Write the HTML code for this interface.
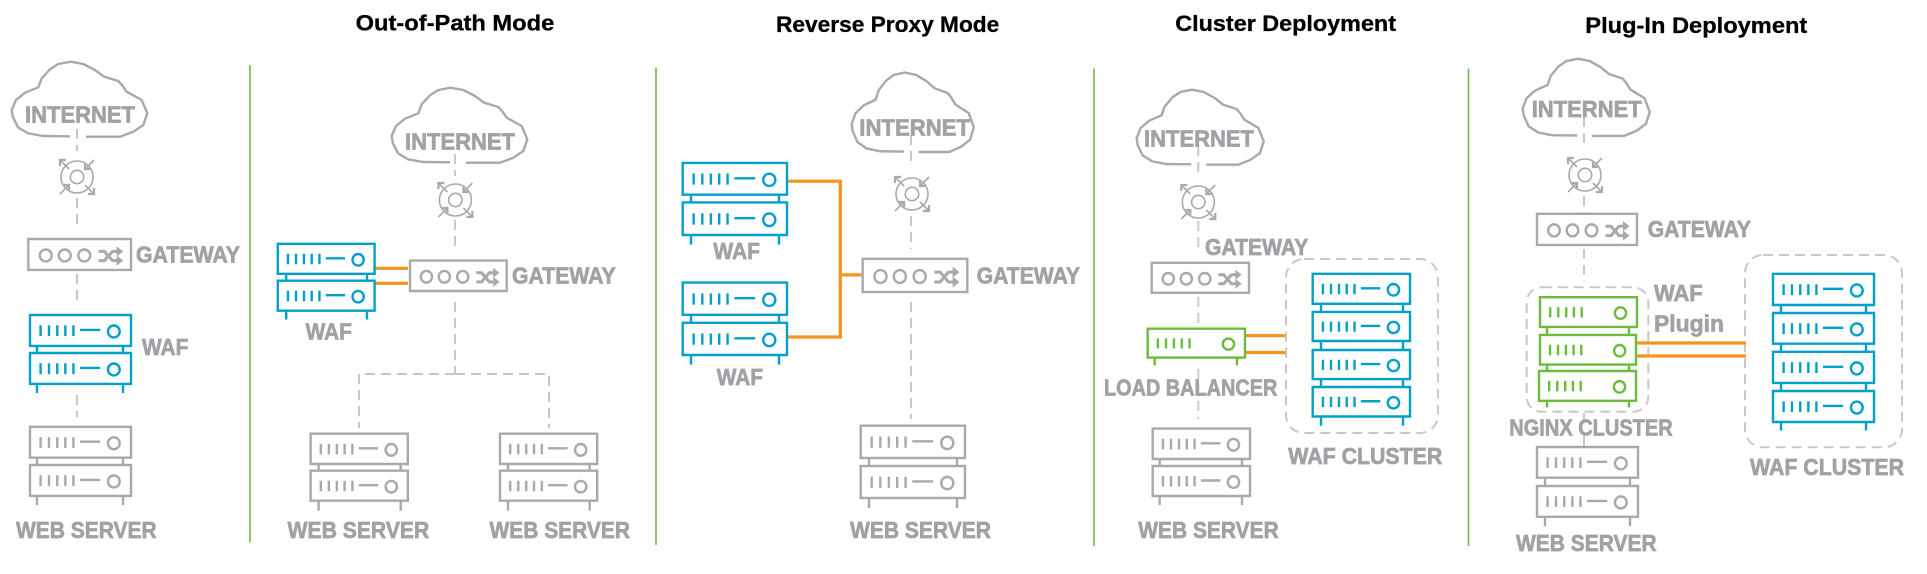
<!DOCTYPE html>
<html><head><meta charset="utf-8"><style>
html,body{margin:0;padding:0;background:#fff}
svg{display:block}
svg *{vector-effect:non-scaling-stroke}
text{font-family:"Liberation Sans",sans-serif;font-weight:bold;font-size:23px;fill:#a0a2a6;stroke:#a0a2a6;stroke-width:.7px}
text.t{fill:#000;stroke:#000;stroke-width:.3px;font-size:22px}
.d{fill:none;stroke:#c7c8ca;stroke-width:2;stroke-dasharray:10 6}
.o{fill:none;stroke:#f7941d;stroke-width:3.2}
</style></head><body>
<svg width="1927" height="574" viewBox="0 0 1927 574" xmlns="http://www.w3.org/2000/svg">
<defs>
<g id="s" stroke-width="2.4"><rect width="100" height="30" fill="#fff"/><path fill="none" d="M10.5 10V20.5M18.8 10V20.5M27 10V20.5M35 10V20.5M43 10V20.5M49.5 14.5H69.5"/><ellipse cx="83" cy="16" rx="5.8" ry="5.8" fill="none"/></g>
<g id="n" stroke-width="2.4"><rect width="100" height="30" fill="#fff"/><path fill="none" d="M10.5 10V20.5M18.8 10V20.5M27 10V20.5M35 10V20.5M43 10V20.5"/><ellipse cx="83" cy="16" rx="5.8" ry="5.8" fill="none"/></g>
<g id="w" stroke-width="2.4"><rect width="100" height="30" fill="#fff"/><ellipse cx="17" cy="16" rx="5.8" ry="5.8" fill="none"/><ellipse cx="35.5" cy="16" rx="5.8" ry="5.8" fill="none"/><ellipse cx="54.5" cy="16" rx="5.8" ry="5.8" fill="none"/><path fill="none" stroke-width="3" d="M68.5 12H74L82 21H87M68.5 21H74L82 12H87"/><path fill="#a7a9ac" stroke="none" d="M86 7L92.5 12L86 17ZM86 16L92.5 21L86 26Z"/></g>
<path id="c" fill="none" stroke-width="2.4" stroke-linejoin="round" d="M70 136.3L43 136L28 133.3L18 127.3L12.7 116.7L11.7 110L16 100L25 92.7L38.3 87.3L41.7 78.3L50 69.3L58.3 64L70.7 61.7L83.3 64L95 70L104 76.7L118.3 81L122 85L126.7 91.7L141.7 100L147.3 113.3L143.3 125L133.3 131.7L120 136.7L86 136.7"/>
<g id="l" fill="none" stroke-width="1.6"><circle r="16"/><circle r="6.7"/><path d="M-17 -17L-8 -8M17 -17L8 -8M-17 17L-8 8M17 17L8 8"/><path stroke-width="2.2" d="M-17 -11V-17H-11M8 -13V-8H13M-13 8H-8V13M11 17H17V11"/></g>
</defs>
<path stroke="#6db33f" stroke-width="1.5" fill="none" d="M250 65V542.5M656 67.5V545M1094 68.5V546M1468.5 68.5V546"/>

<text class="t" x="355.6" y="30.7" textLength="198.7" lengthAdjust="spacingAndGlyphs">Out-of-Path Mode</text>
<text class="t" x="776" y="32.2" textLength="223.3" lengthAdjust="spacingAndGlyphs">Reverse Proxy Mode</text>
<text class="t" x="1175.3" y="31" textLength="220.7" lengthAdjust="spacingAndGlyphs">Cluster Deployment</text>
<text class="t" x="1585.3" y="33" textLength="222" lengthAdjust="spacingAndGlyphs">Plug-In Deployment</text>

<g stroke="#a7a9ac">
<use href="#c"/>
<use href="#c" transform="translate(380,26)"/>
<use href="#c" transform="translate(841.2,7.1) scale(.9,1.06)"/>
<use href="#c" transform="translate(1125.7,28) scale(.937,1)"/>
<use href="#c" transform="translate(1511.7,-4.9) scale(.937,1.03)"/>
<use href="#l" transform="translate(77,177)"/>
<use href="#l" transform="translate(455.4,200)"/>
<use href="#l" transform="translate(912,194)"/>
<use href="#l" transform="translate(1198.3,202)"/>
<use href="#l" transform="translate(1585,175)"/>
</g>

<path class="d" d="M77 129V151M77 198V229M77 274V306M77 395V417"/>
<path class="d" d="M455 154V176M455 220V251M455 302V374M455 374H359V428M455 374H549V428"/>
<path class="d" d="M911 135V167M911 216V249M911 302V419"/>
<path class="d" d="M1198.3 146V176M1198.3 221V253M1198.3 297V327M1198.3 369V419"/>
<path class="d" d="M1584 117V148M1584 196V229M1584 249V282M1584 413V421M1584 436V447"/>

<rect class="d" x="1286" y="259" width="152" height="174" rx="18"/>
<rect class="d" x="1526.7" y="287.3" width="121.6" height="124.5" rx="15"/>
<rect class="d" x="1745" y="255" width="157" height="192.3" rx="18"/>

<path class="o" d="M374.6 268.3H408M374.6 283.3H408"/>
<path class="o" d="M788.3 181.2H840.3V337H788.3M840.3 274.9H861.3"/>
<path class="o" d="M1245.7 335.7H1285.3M1245.7 352.5H1285.3"/>
<path class="o" d="M1636 343H1746M1636 356H1746"/>

<!-- gateways -->
<g stroke="#a7a9ac">
<use href="#w" transform="translate(28.3,239) scale(1.027,1.03)"/>
<use href="#w" transform="translate(410,260.6) scale(.967,1.013)"/>
<use href="#w" transform="translate(862.7,258.8) scale(1.046,1.107)"/>
<use href="#w" transform="translate(1151.7,262.8) scale(.973,1)"/>
<use href="#w" transform="translate(1537,213.8) scale(1,1.037)"/>
</g>

<!-- web servers -->
<g stroke="#a7a9ac">
<path stroke-width="2.4" d="M37 457V505M123 457V505M318.6 464V510.6M400.7 464V510.6M508 464V510.6M589.7 464V510.6M869 458V508M957 458V508M1159.7 459V505M1242 459V505M1545 477V526.3M1630 477V526.3"/>
<use href="#s" transform="translate(30,426.8) scale(1.01,1.03)"/>
<use href="#s" transform="translate(30,465) scale(1.01,1.03)"/>
<use href="#s" transform="translate(310.6,433.7) scale(.972,1.01)"/>
<use href="#s" transform="translate(310.6,470.7) scale(.972,1)"/>
<use href="#s" transform="translate(500,433.7) scale(.972,1.01)"/>
<use href="#s" transform="translate(500,470.7) scale(.972,1)"/>
<use href="#s" transform="translate(860.7,425.7) scale(1.043,1.077)"/>
<use href="#s" transform="translate(860.7,466) scale(1.043,1.067)"/>
<use href="#s" transform="translate(1152.7,428.6) scale(.973,1.013)"/>
<use href="#s" transform="translate(1152.7,466) scale(.973,1)"/>
<use href="#s" transform="translate(1537,447) scale(1.01,1.023)"/>
<use href="#s" transform="translate(1537,486) scale(1.01,1.027)"/>
</g>

<!-- blue servers -->
<g stroke="#00a0c8">
<path stroke-width="2.4" d="M37 346V393M123 346V393M286.2 273V319.5M367 273V319.5M691 194V244.5M779 194V244.5M691 314V364.6M779 314V364.6M1321 303V425.7M1403 303V425.7M1781 305V430.5M1866 305V430.5"/>
<use href="#s" transform="translate(30,315) scale(1.01,1.03)"/>
<use href="#s" transform="translate(30,353) scale(1.01,1.03)"/>
<use href="#s" transform="translate(277.8,243.8) scale(.968,1)"/>
<use href="#s" transform="translate(277.8,280.7) scale(.968,1)"/>
<use href="#s" transform="translate(682.7,162.9) scale(1.043,1.06)"/>
<use href="#s" transform="translate(682.7,202.4) scale(1.043,1.087)"/>
<use href="#s" transform="translate(682.7,282.6) scale(1.043,1.073)"/>
<use href="#s" transform="translate(682.7,322.8) scale(1.043,1.073)"/>
<use href="#s" transform="translate(1312.7,273.8) scale(.973,1)"/>
<use href="#s" transform="translate(1312.7,311.9) scale(.973,.97)"/>
<use href="#s" transform="translate(1312.7,350) scale(.973,.97)"/>
<use href="#s" transform="translate(1312.7,387) scale(.973,.983)"/>
<use href="#s" transform="translate(1773,273.8) scale(1.01,1.04)"/>
<use href="#s" transform="translate(1773,313) scale(1.01,1.023)"/>
<use href="#s" transform="translate(1773,351.8) scale(1.01,1.037)"/>
<use href="#s" transform="translate(1773,391) scale(1.01,1.033)"/>
</g>

<!-- green servers -->
<g stroke="#6cbb3c">
<path stroke-width="2.4" d="M1154.7 357V365.3M1237 357V365.3M1547 326V407.4M1629 326V407.4"/>
<use href="#n" transform="translate(1147.7,328.7) scale(.973,.963)"/>
<use href="#n" transform="translate(1540,297.2) scale(.97,.99)"/>
<use href="#n" transform="translate(1540,334.9) scale(.96,.99)"/>
<use href="#n" transform="translate(1539,371) scale(.97,.993)"/>
</g>

<!-- labels -->
<text x="25" y="122.7" textLength="110" lengthAdjust="spacingAndGlyphs">INTERNET</text>
<text x="136" y="262.3" textLength="104" lengthAdjust="spacingAndGlyphs">GATEWAY</text>
<text x="142" y="355" textLength="46.3" lengthAdjust="spacingAndGlyphs">WAF</text>
<text x="16" y="538" textLength="140.6" lengthAdjust="spacingAndGlyphs">WEB SERVER</text>

<text x="405" y="149.3" textLength="110" lengthAdjust="spacingAndGlyphs">INTERNET</text>
<text x="512" y="283.7" textLength="103.7" lengthAdjust="spacingAndGlyphs">GATEWAY</text>
<text x="305.6" y="339.3" textLength="46.3" lengthAdjust="spacingAndGlyphs">WAF</text>
<text x="287.5" y="538" textLength="141.8" lengthAdjust="spacingAndGlyphs">WEB SERVER</text>
<text x="489.5" y="538" textLength="140.5" lengthAdjust="spacingAndGlyphs">WEB SERVER</text>

<text x="859.3" y="135.4" textLength="110.7" lengthAdjust="spacingAndGlyphs">INTERNET</text>
<text x="713.3" y="259" textLength="46.7" lengthAdjust="spacingAndGlyphs">WAF</text>
<text x="716.7" y="385" textLength="46.3" lengthAdjust="spacingAndGlyphs">WAF</text>
<text x="976.7" y="283.7" textLength="103.3" lengthAdjust="spacingAndGlyphs">GATEWAY</text>
<text x="850" y="538" textLength="141" lengthAdjust="spacingAndGlyphs">WEB SERVER</text>

<text x="1144" y="146.4" textLength="110" lengthAdjust="spacingAndGlyphs">INTERNET</text>
<text x="1205" y="255" textLength="103.3" lengthAdjust="spacingAndGlyphs">GATEWAY</text>
<text x="1104" y="395.3" textLength="173.3" lengthAdjust="spacingAndGlyphs">LOAD BALANCER</text>
<text x="1288.3" y="464" textLength="154" lengthAdjust="spacingAndGlyphs">WAF CLUSTER</text>
<text x="1138.3" y="538" textLength="140.4" lengthAdjust="spacingAndGlyphs">WEB SERVER</text>

<text x="1531.7" y="117" textLength="110" lengthAdjust="spacingAndGlyphs">INTERNET</text>
<text x="1647.7" y="237" textLength="103.3" lengthAdjust="spacingAndGlyphs">GATEWAY</text>
<text x="1654" y="300.9" textLength="48.7" lengthAdjust="spacingAndGlyphs">WAF</text>
<text x="1654" y="331.3" textLength="70" lengthAdjust="spacingAndGlyphs">Plugin</text>
<text x="1509.3" y="435.6" textLength="163.4" lengthAdjust="spacingAndGlyphs">NGINX CLUSTER</text>
<text x="1750" y="475" textLength="154" lengthAdjust="spacingAndGlyphs">WAF CLUSTER</text>
<text x="1516" y="551" textLength="140.7" lengthAdjust="spacingAndGlyphs">WEB SERVER</text>
</svg>
</body></html>
